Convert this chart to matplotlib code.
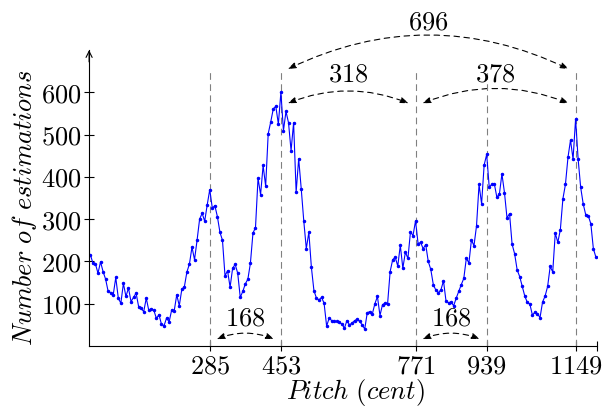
import numpy as np
import matplotlib
matplotlib.use("Agg")
import matplotlib.pyplot as plt
from matplotlib.patches import FancyArrowPatch

plt.rcParams["mathtext.fontset"] = "cm"

# ---------------------------
# Data (histogram of pitch estimations, 6-cent bins)
# ---------------------------
pitch = np.arange(3, 1200, 6)
counts = [
    216, 196, 194, 172, 199, 176, 158, 129, 126, 121,
    162, 113, 101, 148, 117, 137, 105, 115, 125, 93,
    89, 81, 113, 84, 88, 84, 65, 74, 51, 48,
    66, 57, 85, 83, 121, 95, 134, 140, 175, 194,
    234, 204, 250, 300, 314, 295, 334, 370, 326, 332,
    306, 269, 250, 166, 178, 139, 184, 193, 172, 115,
    129, 147, 158, 196, 267, 280, 397, 358, 427, 378,
    502, 530, 561, 567, 525, 600, 509, 555, 528, 462,
    528, 364, 443, 372, 296, 230, 269, 186, 131, 113,
    109, 115, 101, 47, 66, 60, 58, 58, 56, 52,
    42, 60, 50, 54, 60, 63, 58, 50, 40, 79,
    81, 76, 100, 117, 72, 98, 101, 100, 176, 204,
    210, 189, 238, 184, 222, 207, 270, 261, 296, 242,
    245, 230, 240, 200, 181, 145, 132, 126, 133, 154,
    106, 102, 104, 95, 113, 129, 145, 160, 208, 196,
    251, 237, 284, 382, 336, 428, 453, 376, 382, 384,
    352, 359, 407, 363, 303, 313, 241, 218, 180, 164,
    141, 118, 103, 99, 73, 80, 76, 67, 104, 118,
    141, 188, 175, 267, 245, 275, 348, 382, 446, 487,
    442, 537, 442, 375, 336, 310, 308, 289, 230, 210,
]

peaks = [285, 453, 771, 939, 1149]
y_ticks = [100, 200, 300, 400, 500, 600]

# interval arcs: (start peak, end peak, label, arc height, bend)
intervals = [
    (453, 1149, "696", 655, -0.24),
    (453, 771, "318", 574, -0.2),
    (771, 1149, "378", 574, -0.2),
    (285, 453, "168", 16, -0.2),
    (771, 939, "168", 16, -0.2),
]

FS = 19

# ---------------------------
# Plot
# ---------------------------
fig = plt.figure(figsize=(6.02, 4.07), dpi=100)
ax = fig.add_axes([0.148, 0.150, 0.844, 0.727])

ax.vlines(peaks, 0, 650, colors="#808080", linestyles=(0, (6, 4)), lw=0.8)
ax.plot(pitch, counts, color="blue", lw=0.8, marker="o", ms=1.5)

ax.set_xlim(0, 1200)
ax.set_ylim(0, 700)
ax.set_xticks(peaks)
ax.set_xticklabels([f"${p}$" for p in peaks])
ax.set_xticks([1200], minor=True)
ax.set_yticks(y_ticks)
ax.set_yticklabels([f"${v}$" for v in y_ticks])
ax.tick_params(which="both", direction="inout", length=7, width=0.8, labelsize=FS, pad=2)

for s in ["top", "right"]:
    ax.spines[s].set_visible(False)
ax.spines["left"].set_linewidth(0.8)
ax.spines["bottom"].set_linewidth(0.8)
ax.annotate("", xy=(0, 1.0), xytext=(0, 0.96), xycoords="axes fraction",
            arrowprops=dict(arrowstyle="->", lw=0.8, color="black",
                            shrinkA=0, shrinkB=0, mutation_scale=11),
            annotation_clip=False)

for a, b, lab, h, rad in intervals:
    off = 16
    arr = FancyArrowPatch((a + off, h), (b - off, h),
                          connectionstyle=f"arc3,rad={rad}",
                          arrowstyle="<|-|>,head_length=0.45,head_width=0.16",
                          mutation_scale=11, linestyle=(0, (5, 4)), lw=0.8,
                          color="black", shrinkA=0, shrinkB=0, clip_on=False)
    ax.add_patch(arr)
    if h > 300:
        ty = h + 110 if lab == "696" else h + 68
    else:
        ty = h + 50
    ax.text((a + b) / 2, ty, f"${lab}$", ha="center", va="center",
            fontsize=FS, clip_on=False)

fig.text(355 / 602, 1 - 393 / 407, r"$Pitch\ (cent)$", ha="center", va="center", fontsize=FS)
fig.text(25 / 602, 1 - 208 / 407, r"$Number\ of\ estimations$", ha="center", va="center",
         rotation=90, fontsize=FS)

plt.savefig("out.png", dpi=100)
